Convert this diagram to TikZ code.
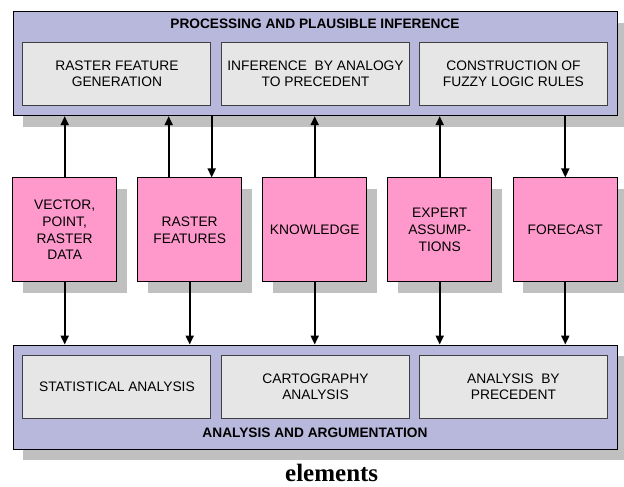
\documentclass[tikz,border=0pt]{standalone}
\usepackage{fontspec}
\setmainfont{Liberation Sans}
\newfontfamily\captionserif{Liberation Serif}
\usetikzlibrary{arrows.meta, shadows}
\definecolor{PanelLilac}{HTML}{B8B8DC}
\definecolor{CellGray}{HTML}{E6E6E6}
\definecolor{CellEdge}{HTML}{404040}
\definecolor{SourcePink}{HTML}{FF99CC}
\definecolor{ShadowGray}{HTML}{C0C0C0}

\begin{document}
\begin{tikzpicture}[x=1pt, y=-1pt,
    boxshadow/.style={copy shadow={shadow xshift=10pt, shadow yshift=-11pt, fill=ShadowGray, draw=none}},
    panel/.style={draw=black, line width=0.9pt, fill=PanelLilac, minimum width=604pt, minimum height=104pt, boxshadow},
    task/.style={draw=CellEdge, line width=0.9pt, fill=CellGray, minimum width=188pt, minimum height=63pt, align=center, font=\fontsize{13.8}{16.5}\selectfont},
    source/.style={draw=black, line width=0.9pt, fill=SourcePink, minimum width=104pt, minimum height=104pt, align=center, font=\fontsize{13.8}{16.7}\selectfont, boxshadow},
    heading/.style={font=\fontsize{13.7}{16}\selectfont\bfseries},
    arr/.style={line width=1.8pt, -{Triangle[length=9pt, width=8pt]}}
]
\useasboundingbox (0,0) rectangle (624,487);

% Top panel
\node[panel] (proc) at (315, 63.7) {};
\node[heading] (proctitle) at (315, 23.5) {PROCESSING AND PLAUSIBLE INFERENCE};
\node[task] (rfg) at (116.9, 73.7) {RASTER FEATURE\\GENERATION};
\node[task] (iap) at (315.5, 73.7) {INFERENCE~~BY ANALOGY\\TO PRECEDENT};
\node[task] (cfl) at (513.4, 73.7) {CONSTRUCTION OF\\FUZZY LOGIC RULES};

% Bottom panel
\node[panel] (anl) at (315, 397) {};
\node[heading] (anltitle) at (315, 433) {ANALYSIS AND ARGUMENTATION};
\node[task] (sta) at (116.9, 386.7) {STATISTICAL ANALYSIS};
\node[task] (car) at (315.5, 386.7) {CARTOGRAPHY\\ANALYSIS};
\node[task] (abp) at (513.4, 386.7) {ANALYSIS~~BY\\PRECEDENT};

% Middle row
\node[source] (vec) at (64.7, 229.9) {VECTOR,\\POINT,\\RASTER\\DATA};
\node[source] (ras) at (189.7, 229.9) {RASTER\\FEATURES};
\node[source] (kno) at (314.7, 229.9) {KNOWLEDGE};
\node[source] (exp) at (439.7, 229.9) {EXPERT\\ASSUMP-\\TIONS};
\node[source] (for) at (565.3, 229.9) {FORECAST};

% Arrows to and from the top panel
\draw[arr] (vec.north) -- (vec.north |- proc.south);
\draw[arr] ([xshift=-21pt]ras.north) -- ([xshift=-21pt]ras.north |- proc.south);
\draw[arr] ([xshift=22pt]ras.north |- proc.south) -- ([xshift=22pt]ras.north);
\draw[arr] (kno.north) -- (kno.north |- proc.south);
\draw[arr] (exp.north) -- (exp.north |- proc.south);
\draw[arr] (for.north |- proc.south) -- (for.north);

% Arrows to the bottom panel
\foreach \src in {vec, ras, kno, exp, for}
  \draw[arr] (\src.south) -- (\src.south |- anl.north);

\node[font=\captionserif\fontsize{25}{28}\selectfont\bfseries, inner sep=0pt, anchor=base] (caption) at (331.7, 481.5) {elements};
\end{tikzpicture}
\end{document}
